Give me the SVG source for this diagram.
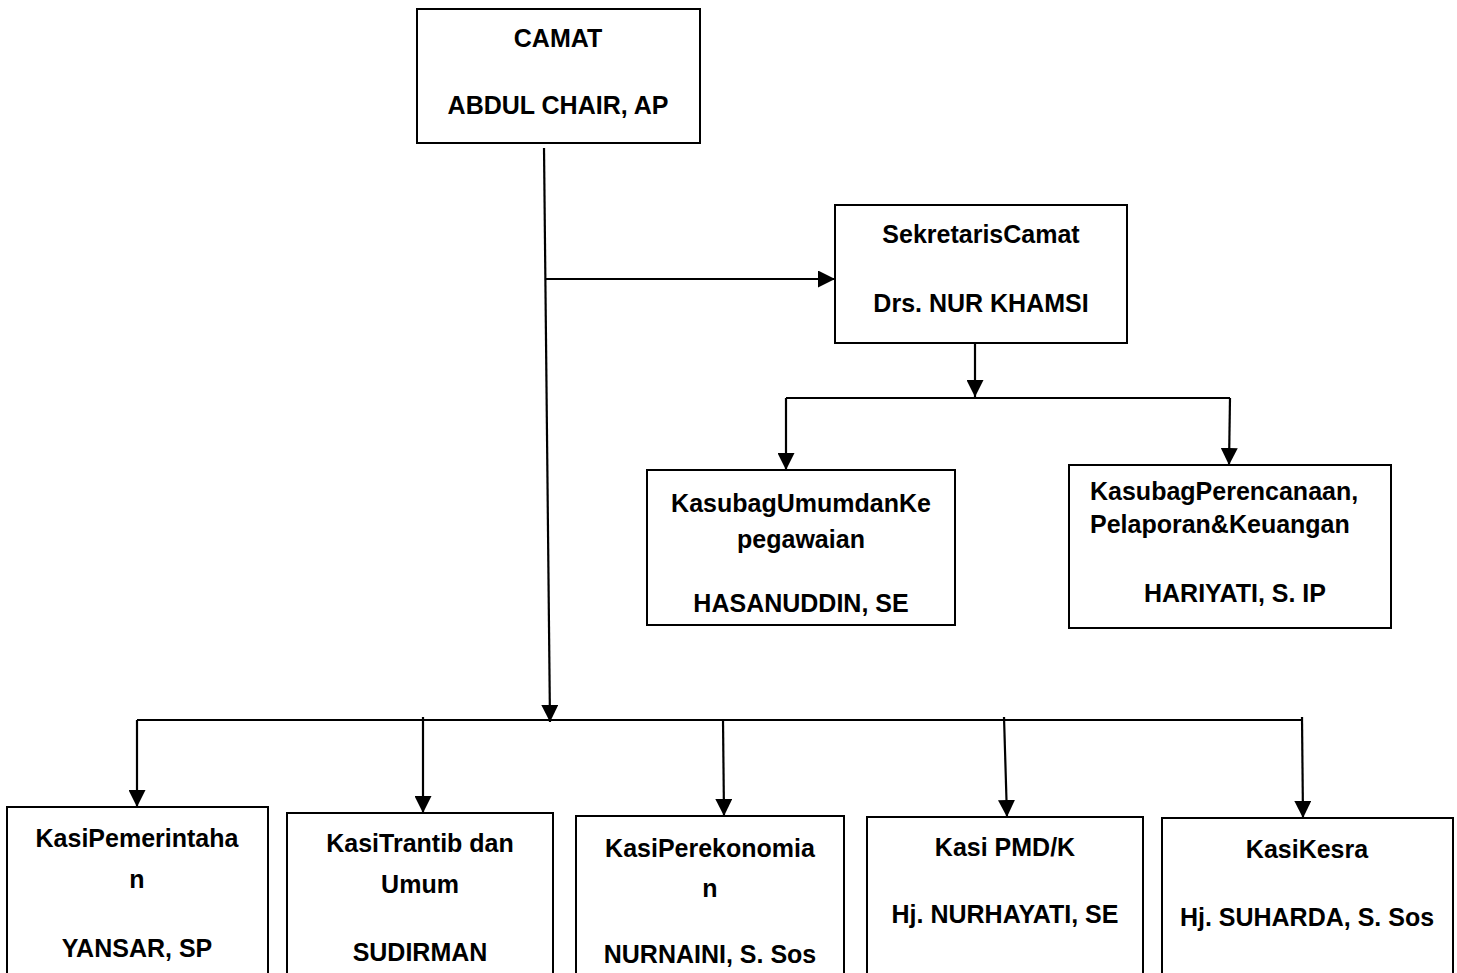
<svg xmlns="http://www.w3.org/2000/svg" width="1457" height="973" viewBox="0 0 1457 973">
<style>
.box{fill:#fff;stroke:#000;stroke-width:2}
.t{font-family:"Liberation Sans",Arial,sans-serif;font-weight:bold;font-size:25px;fill:#000;text-anchor:middle}
.s{text-anchor:start}
.c{fill:none;stroke:#000;stroke-width:2.2}
</style>
<defs>
<marker id="arr" markerUnits="userSpaceOnUse" markerWidth="17" markerHeight="17" refX="17" refY="8.5" orient="auto">
<path d="M0,0 L17,8.5 L0,17 z" fill="#000"/>
</marker>
</defs>
<rect width="1457" height="973" fill="#fff"/>
<g id="connectors">
<path class="c" d="M544,148 L550,722" marker-end="url(#arr)"/>
<path class="c" d="M545,279 L835,279" marker-end="url(#arr)"/>
<path class="c" d="M975,343 L975,397" marker-end="url(#arr)"/>
<path class="c" d="M786,398 L1230,398"/>
<path class="c" d="M786,398 L786,470" marker-end="url(#arr)"/>
<path class="c" d="M1230,398 L1229,465" marker-end="url(#arr)"/>
<path class="c" d="M137,720 L1302,720"/>
<path class="c" d="M137,720 L137,807" marker-end="url(#arr)"/>
<path class="c" d="M423,717 L423,813" marker-end="url(#arr)"/>
<path class="c" d="M723,720 L724,816" marker-end="url(#arr)"/>
<path class="c" d="M1004,717 L1007,817" marker-end="url(#arr)"/>
<path class="c" d="M1302,717 L1303,818" marker-end="url(#arr)"/>
</g>
<g id="camat">
<rect class="box" x="417" y="9" width="283" height="134"/>
<text class="t" x="558" y="47">CAMAT</text>
<text class="t" x="558" y="114">ABDUL CHAIR, AP</text>
</g>
<g id="sekcam">
<rect class="box" x="835" y="205" width="292" height="138"/>
<text class="t" x="981" y="243">SekretarisCamat</text>
<text class="t" x="981" y="312">Drs. NUR KHAMSI</text>
</g>
<g id="kasubag-umum">
<rect class="box" x="647" y="470" width="308" height="155"/>
<text class="t" x="801" y="512">KasubagUmumdanKe</text>
<text class="t" x="801" y="548">pegawaian</text>
<text class="t" x="801" y="612">HASANUDDIN, SE</text>
</g>
<g id="kasubag-perencanaan">
<rect class="box" x="1069" y="465" width="322" height="163"/>
<text class="t s" x="1090" y="500">KasubagPerencanaan,</text>
<text class="t s" x="1090" y="533">Pelaporan&amp;Keuangan</text>
<text class="t" x="1235" y="602">HARIYATI, S. IP</text>
</g>
<g id="kasi-pemerintahan">
<rect class="box" x="7" y="807" width="261" height="180"/>
<text class="t" x="137" y="847">KasiPemerintaha</text>
<text class="t" x="137" y="888">n</text>
<text class="t" x="137" y="957">YANSAR, SP</text>
</g>
<g id="kasi-trantib">
<rect class="box" x="287" y="813" width="266" height="180"/>
<text class="t" x="420" y="852">KasiTrantib dan</text>
<text class="t" x="420" y="893">Umum</text>
<text class="t" x="420" y="961">SUDIRMAN</text>
</g>
<g id="kasi-perekonomian">
<rect class="box" x="576" y="816" width="268" height="180"/>
<text class="t" x="710" y="857">KasiPerekonomia</text>
<text class="t" x="710" y="897">n</text>
<text class="t" x="710" y="963">NURNAINI, S. Sos</text>
</g>
<g id="kasi-pmd">
<rect class="box" x="867" y="817" width="276" height="180"/>
<text class="t" x="1005" y="856">Kasi PMD/K</text>
<text class="t" x="1005" y="923">Hj. NURHAYATI, SE</text>
</g>
<g id="kasi-kesra">
<rect class="box" x="1162" y="818" width="291" height="180"/>
<text class="t" x="1307" y="858">KasiKesra</text>
<text class="t" x="1307" y="926">Hj. SUHARDA, S. Sos</text>
</g>
</svg>
